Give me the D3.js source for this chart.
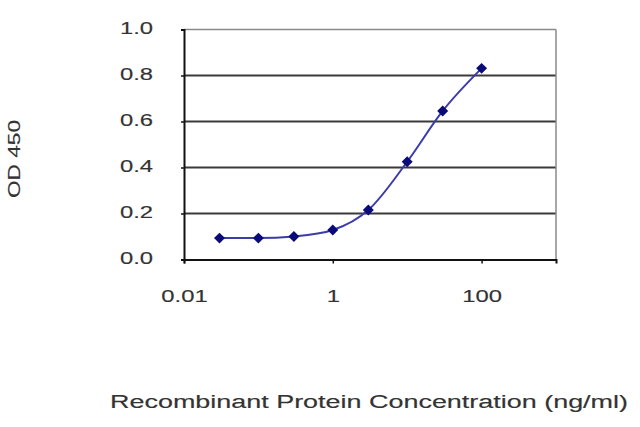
<!DOCTYPE html>
<html><head><meta charset="utf-8">
<script src="https://cdn.jsdelivr.net/npm/d3@7"></script>
<style>
html,body{margin:0;padding:0;background:#fff;}
text{font-family:"Liberation Sans",Arial,sans-serif;fill:#333;stroke:#333;stroke-width:0.15px;}
</style></head>
<body>
<svg id="chart" width="640" height="427"></svg>
<script>
const concentrations = [0.03, 0.1, 0.3, 1, 3, 10, 30, 100];
const odValues = [0.093, 0.093, 0.10, 0.128, 0.215, 0.425, 0.646, 0.831];
const xTickValues = [0.01, 1, 100];
const yTickValues = [0, 0.2, 0.4, 0.6, 0.8, 1.0];
const xTitle = "Recombinant Protein Concentration (ng/ml)";
const yTitle = "OD 450";

(function(){
const svg = d3.select("#chart");
const pLeft = 184, pRight = 556, pTop = 29.5, pBottom = 259.5;
const x = d3.scaleLog().domain([0.01, 1000]).range([pLeft, pRight]);
const y = d3.scaleLinear().domain([0, 1]).range([pBottom, pTop]);
const SX = 1.4;

function stretch(sel, factor){
  sel.each(function(){
    const w = this.getComputedTextLength();
    d3.select(this).attr("textLength", w*factor).attr("lengthAdjust","spacingAndGlyphs");
  });
}

// gridlines
svg.append("g").selectAll("line").data(yTickValues.filter(v => v > 0 && v < 1)).join("line")
  .attr("x1", pLeft).attr("x2", pRight)
  .attr("y1", d => y(d)).attr("y2", d => y(d))
  .attr("stroke", "#3a3a3a").attr("stroke-width", 2);

// top and right border
svg.append("line").attr("x1", pLeft).attr("x2", pRight).attr("y1", y(1)).attr("y2", y(1))
  .attr("stroke", "#8a8a8a").attr("stroke-width", 1.5);
svg.append("line").attr("x1", pRight).attr("x2", pRight).attr("y1", y(1)).attr("y2", y(0))
  .attr("stroke", "#8a8a8a").attr("stroke-width", 1.5);

// axes
const yAxis = svg.append("g").attr("transform", `translate(${pLeft},0)`)
  .call(d3.axisLeft(y).tickValues(yTickValues).tickFormat(d3.format(".1f")).tickSize(3).tickPadding(28));
yAxis.select(".domain").attr("stroke", "#111").attr("stroke-width", 2);
yAxis.selectAll(".tick line").attr("stroke", "#111").attr("stroke-width", 1.5);
yAxis.selectAll("text").attr("font-size", 17).attr("dy", "0.25em");
stretch(yAxis.selectAll("text"), SX);

const xAxis = svg.append("g").attr("transform", `translate(0,${pBottom})`)
  .call(d3.axisBottom(x).tickValues(xTickValues).tickFormat(d => String(d)).tickSize(4).tickPadding(26));
xAxis.select(".domain").attr("stroke", "#111").attr("stroke-width", 2);
xAxis.selectAll(".tick line").attr("stroke", "#111").attr("stroke-width", 1.5);
xAxis.selectAll("text").attr("font-size", 17);
stretch(xAxis.selectAll("text"), SX);

// line
const pts = concentrations.map((c,i) => [c, odValues[i]]);
svg.append("path").datum(pts)
  .attr("fill","none").attr("stroke","#3c3ca8").attr("stroke-width",2)
  .attr("d", d3.line().x(d => x(d[0])).y(d => y(d[1])).curve(d3.curveMonotoneX));

svg.append("g").selectAll("path").data(pts).join("path")
  .attr("transform", d => `translate(${x(d[0])},${y(d[1])}) rotate(45)`)
  .attr("d", d3.symbol().type(d3.symbolSquare).size(60))
  .attr("fill", "#0a0a78");

// titles
const xt = svg.append("text").attr("x", 369).attr("y", 408).attr("text-anchor","middle")
  .attr("font-size", 18).text(xTitle);
xt.attr("textLength", 518).attr("lengthAdjust","spacingAndGlyphs");

const yt = svg.append("text").attr("transform","translate(20,159) rotate(-90)")
  .attr("text-anchor","middle").attr("font-size", 17).text(yTitle);
yt.attr("textLength", 78).attr("lengthAdjust","spacingAndGlyphs");
})();
</script>
</body></html>
